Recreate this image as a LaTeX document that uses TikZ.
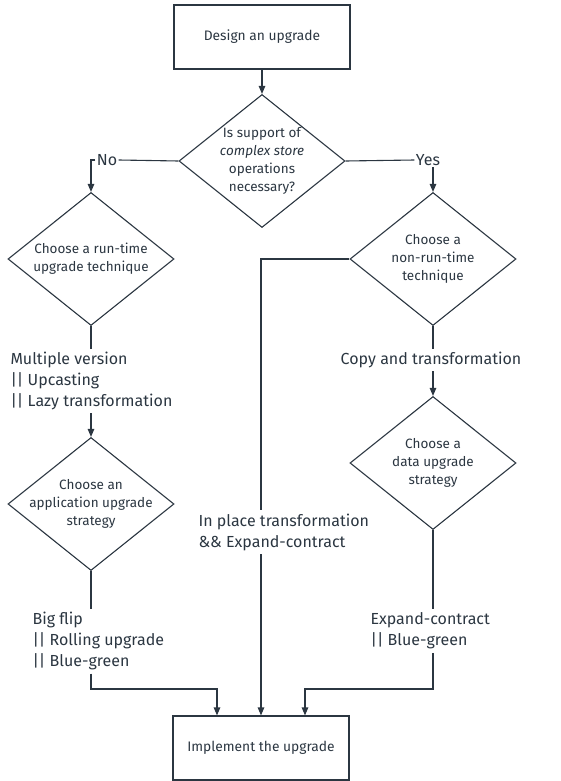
\documentclass[tikz,border=0pt]{standalone}
\usepackage{fontspec}
\setmainfont{Fira Sans}
\usepackage{xcolor}
\usetikzlibrary{positioning,arrows.meta,shapes.geometric}
\definecolor{ink}{HTML}{2B3641}

\begin{document}
\begin{tikzpicture}[x=1pt, y=-1pt, line width=1.1pt, color=ink,
    box/.style={draw, rectangle, minimum width=176pt, minimum height=64pt, font=\fontsize{13.8}{16}\selectfont},
    decision/.style={draw, diamond, aspect=1.25, inner sep=-30pt, minimum width=166pt, minimum height=133pt, align=center, font=\fontsize{13.5}{18}\selectfont},
    outcome/.style={align=left, inner sep=3pt, font=\fontsize{16}{21}\selectfont},
    answer/.style={inner sep=1pt, font=\fontsize{16}{21}\selectfont},
    flow/.style={-{Triangle[length=8pt,width=6.5pt]}}]
    \useasboundingbox (0,0) rectangle (561,781);

    % Components
    \node[box] (design) at (262,37) {Design an upgrade};
    \node[decision] (d1) at (262,161) {Is support of\\\textit{complex store}\\operations\\necessary?};
    \node[answer] (no) at (107,160) {No};
    \node[answer] (yes) at (428,160) {Yes};
    \node[decision] (d2) at (91,259) {Choose a run-time\\upgrade technique};
    \node[decision] (d3) at (433,259) {Choose a\\non-run-time\\technique};
    \node[outcome, anchor=west] (mult) at (7,381) {Multiple version\\|| Upcasting\\|| Lazy transformation};
    \node[outcome] (copy) at (431,360) {Copy and transformation};
    \node[decision] (d4) at (91,504) {Choose an\\application upgrade\\strategy};
    \node[decision] (d5) at (433,463) {Choose a\\data upgrade\\strategy};
    \node[outcome, anchor=west] (inplace) at (195,532) {In place transformation\\\&\& Expand-contract};
    \node[outcome, anchor=west] (big) at (29,641) {Big flip\\|| Rolling upgrade\\|| Blue-green};
    \node[outcome, anchor=west] (exp) at (367,631) {Expand-contract\\|| Blue-green};
    \node[box] (impl) at (261,748) {Implement the upgrade};
    \coordinate (jl) at (217,689);
    \coordinate (jr) at (305,689);

    % Flow
    \draw[flow] (design.south) -- (d1.north);
    \draw (d1.west) -- (no.east);
    \draw[flow] (no.west) -| (d2.north);
    \draw (d1.east) -- (yes.west);
    \draw[flow] (yes.south -| d3.north) -- (d3.north);
    \draw (d2.south) -- (d2.south |- mult.north);
    \draw[flow] (mult.south -| d4.north) -- (d4.north);
    \draw (d4.south) -- (d4.south |- big.north);
    \draw (d3.south) -- (d3.south |- copy.north);
    \draw[flow] (copy.south -| d5.north) -- (d5.north);
    \draw (d5.south) -- (d5.south |- exp.north);
    \draw (d3.west) -| (impl.north |- inplace.north);
    \draw[flow] (impl.north |- inplace.south) -- (impl.north);
    \draw[flow] (big.south -| d4.south) |- (jl) -- (jl |- impl.north);
    \draw[flow] (exp.south -| d5.south) |- (jr) -- (jr |- impl.north);
\end{tikzpicture}
\end{document}
